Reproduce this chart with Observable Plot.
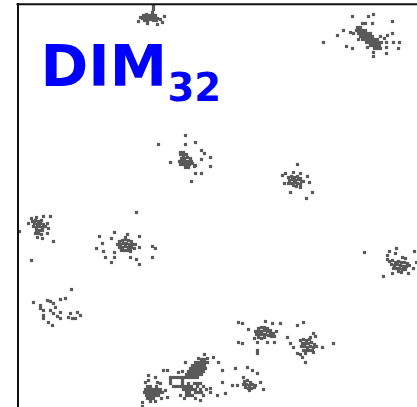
<!DOCTYPE html>
<html>
<head>
<meta charset="utf-8">
<script src="https://cdn.jsdelivr.net/npm/d3@7"></script>
<script src="https://cdn.jsdelivr.net/npm/@observablehq/plot@0.6"></script>
<style>
  html, body { margin: 0; padding: 0; background: #fff; overflow: hidden; }
  #chart svg { display: block; }
</style>
</head>
<body>
<div id="chart"></div>
<script>
// Title
const titleMain = "DIM";
const titleSub = "32";

// Cluster point sets (x, y in chart units; y grows downward)
const clusterTop = [
  [153,6],[153,9],[152,12],[140,17],[143,15],[146,14],[149,15],[152,14],[155,15],[142,18],
  [145,17],[148,17],[151,17],[154,17],[157,18],[144,20],[147,20],[150,19],[153,20],[156,20],
  [160,19],[162,22],[138,21],[147,23],[157,24],[164,16]
];
const clusterTopRight = [
  [352,16],[368,16],[373,14],[392,21],[362,23],[365,23],[372,23],[343,30],[337,35],[323,42],
  [392,33],[350,32],[353,33],[387,35],[386,42],[393,42],[399,42],[386,47],[346,46],[352,48],
  [398,48],[373,52],[373,56],[386,53],[380,48],
  [357,27],[360,27],
  [356,30],[359,30],[362,30],[365,30],
  [358,33],[361,33],[364,33],[367,33],[370,33],
  [360,36],[363,36],[366,36],[369,36],[372,36],
  [362,39],[365,39],[368,39],[371,39],[374,39],[377,39],
  [366,42],[369,42],[372,42],[375,42],[378,42],[381,42],
  [370,45],[373,45],[376,45],[379,45],
  [374,48],[377,48],[358,39],[380,36],[384,38],[367,47]
];
const clusterMidTop = [
  [185,135],[158,144],[185,144],[195,142],[180,152],[183,152],[201,150],[204,153],[170,162],
  [210,157],[210,166],[201,159],[195,165],[195,173],[201,173],[191,181],
  [180,154],[183,155],[186,154],[181,158],[184,158],[187,157],[190,158],[179,161],[182,161],
  [185,161],[188,161],[191,161],[183,164],[186,164],[189,164],[192,163],[185,167],[188,167],
  [194,166],[180,164]
];
const clusterMidRight = [
  [297,164],[282,175],[285,173],[293,172],[300,173],[307,176],[284,183],[309,182],[290,192],
  [300,187],[312,192],[306,198],
  [288,177],[291,176],[294,177],[297,176],[300,178],[289,180],[292,179],[295,180],[298,179],
  [301,181],[288,183],[291,183],[294,182],[297,183],[300,184],[303,181],[293,185],[296,186]
];
const clusterLeft = [
  [31,218],[36,217],[43,216],[50,216],[28,223],[47,223],[42,228],[48,228],[19,231],[47,233],
  [37,237],[42,238],[53,241],[31,260],
  [32,221],[35,220],[38,221],[41,220],[34,223],[37,224],[40,223],[43,224],[33,226],[36,227],
  [39,226],[42,227],[45,226],[36,230],[39,230],[42,230],[38,233],[41,234],[35,233]
];
const clusterCenterLeft = [
  [136,212],[114,232],[127,234],[139,236],[99,236],[111,238],[102,243],[96,248],[103,251],
  [114,252],[130,251],[105,257],[114,257],[111,262],[130,257],[136,259],[139,264],[152,246],
  [155,248],[152,257],[139,247],
  [119,241],[122,240],[125,239],[128,240],[131,241],[117,244],[120,244],[123,243],[126,243],
  [129,244],[132,244],[135,244],[119,247],[122,247],[125,246],[128,247],[131,247],[134,248],
  [121,250],[124,250],[127,250],[130,250],[125,237]
];
const clusterRight = [
  [364,252],[389,251],[396,248],[414,251],[387,255],[387,259],[395,253],[402,257],[405,258],
  [416,262],[413,268],[383,276],[392,273],[408,273],
  [389,261],[392,260],[395,262],[398,261],[401,262],[404,262],[407,263],[391,264],[394,265],
  [397,264],[400,265],[403,266],[406,266],[409,265],[393,268],[396,268],[399,268],[402,269],
  [398,271],[401,272],[405,269]
];
const clusterLowerLeft = [
  [71,289],[65,298],[60,299],[33,302],[47,300],[50,301],[40,308],[53,303],[55,307],[43,310],
  [43,315],[43,318],[50,310],[53,313],[57,316],[60,318],[48,322],[52,325],[68,317],[72,318],
  [70,313],[77,312],[80,315],[75,318],[40,305],[60,312]
];
const clusterLowerMid = [
  [238,322],[242,323],[265,321],[272,323],[280,323],[248,329],[238,342],[242,343],[257,342],
  [257,350],[257,353],[267,342],[274,342],[287,337],
  [258,328],[261,327],[264,327],[267,328],[270,330],[255,331],[258,331],[261,331],[264,330],
  [267,331],[270,333],[273,333],[256,334],[259,334],[262,334],[265,334],[268,335],[271,336],
  [274,336],[258,337],[261,338],[264,337],[254,338],[276,331]
];
const clusterLowerRight = [
  [297,325],[303,322],[313,333],[310,337],[315,336],[333,343],[322,347],[290,343],[293,347],
  [305,362],[302,357],[297,353],[300,354],[313,352],
  [300,340],[303,339],[306,340],[309,339],[302,343],[305,343],[308,343],[311,342],[314,344],
  [301,346],[304,346],[307,347],[310,346],[313,347],[316,346],[303,350],[306,350],[309,350],
  [312,350],[305,353]
];
const clusterBottom = [
  // scattered outliers
  [204,354],[198,358],[207,358],[213,357],[218,362],[185,362],[178,372],[182,371],[163,370],
  [167,370],[222,370],[148,375],[155,377],[145,382],[148,380],[157,382],[160,383],[165,390],
  [167,397],[222,382],[210,388],[225,393],[217,395],[195,398],[200,400],[142,402],[142,406],
  // upper-right blob
  [201,359],[204,359],
  [195,362],[198,362],[201,362],[204,362],[207,362],
  [192,365],[195,365],[198,365],[201,365],[204,365],
  [190,368],[193,368],[196,368],[199,368],[202,368],[205,368],
  [188,371],[191,371],[194,371],[197,371],[200,371],[203,371],
  [186,374],[189,374],[192,374],[195,374],[198,374],[201,374],
  [185,377],[188,377],[191,377],[194,377],[197,377],
  // open rectangle
  [170,377],[173,377],[176,377],[179,377],[182,377],
  [170,380],[182,380],[170,383],[182,383],
  [173,386],[176,386],[179,386],[182,386],
  // lower-middle blob
  [188,383],[194,383],[197,383],[200,383],
  [185,386],[188,386],[191,386],[197,386],[203,386],
  [183,389],[186,389],[189,389],[192,389],[195,389],[200,389],[206,389],
  [186,392],[189,392],[195,392],[198,392],[201,392],[210,392],
  [180,395],[186,395],[189,395],[192,395],[203,395],
  [184,398],
  // lower-left blob
  [147,386],[150,386],[156,386],
  [145,389],[148,389],[151,389],[154,389],[157,389],[160,389],
  [144,392],[147,392],[150,392],[153,392],[156,392],[159,392],[162,392],
  [146,395],[149,395],[152,395],[155,395],[158,395],
  [147,398],[150,398],[153,398],[161,398],
  [150,401],[155,401]
];
const clusterBottomRight = [
  [235,368],[247,367],[252,370],[257,373],[243,377],[260,382],[263,389],[232,385],[237,385],
  [244,381],[247,380],[250,382],[243,384],[246,384],[249,385],[252,384],[255,385],[245,387],
  [248,388],[251,388],[254,387],[249,390]
];

const clusters = [clusterTop, clusterTopRight, clusterMidTop, clusterMidRight, clusterLeft,
  clusterCenterLeft, clusterRight, clusterLowerLeft, clusterLowerMid, clusterLowerRight,
  clusterBottom, clusterBottomRight];
const points = clusters.flat().map(([x, y]) => ({x, y}));

const frameLeft = [17.5];
const frameTop = [3.7];

const chart = Plot.plot({
  width: 417,
  height: 407,
  margin: 0,
  x: {domain: [0, 417], range: [0, 417], axis: null},
  y: {domain: [0, 407], range: [0, 407], axis: null},
  marks: [
    Plot.dot(points, {x: "x", y: "y", symbol: "square", r: 1.8, fill: "#5a5a5a", stroke: null}),
    Plot.ruleX(frameLeft, {y1: 3, y2: 407, stroke: "#111", strokeWidth: 2}),
    Plot.ruleY(frameTop, {x1: 16.5, x2: 417, stroke: "#111", strokeWidth: 2}),
    Plot.text([titleMain], {frameAnchor: "top-left", dx: 40, dy: 85, lineAnchor: "bottom", textAnchor: "start",
      fontFamily: "DejaVu Sans", fontWeight: "bold", fontSize: 57.6, fill: "#0000ff"}),
    Plot.text([titleSub], {frameAnchor: "top-left", dx: 167, dy: 100, lineAnchor: "bottom", textAnchor: "start",
      fontFamily: "DejaVu Sans", fontWeight: "bold", fontSize: 38.5, fill: "#0000ff"})
  ]
});
document.getElementById("chart").appendChild(chart);
</script>
</body>
</html>
